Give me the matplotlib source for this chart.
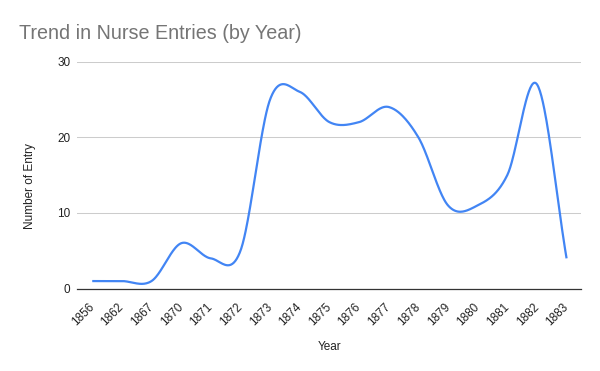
import matplotlib
matplotlib.use("Agg")
import matplotlib.pyplot as plt
from matplotlib.transforms import ScaledTranslation
import numpy as np

plt.rcParams['font.family'] = ['Liberation Sans', 'DejaVu Sans']

years = ['1856', '1862', '1867', '1870', '1871', '1872', '1873', '1874', '1875',
         '1876', '1877', '1878', '1879', '1880', '1881', '1882', '1883']
entries = [1, 1, 1, 6, 4, 5, 25, 26, 22, 22, 24, 20, 11, 11, 15, 27, 4]
y_ticks = [0, 10, 20, 30]


def smooth(vals, n=40):
    # catmull-rom style curve through the points (like the sheets "smooth" line)
    v = np.array(vals, dtype=float)
    m = np.zeros_like(v)
    m[1:-1] = (v[2:] - v[:-2]) / 2
    m[0] = v[1] - v[0]
    m[-1] = v[-1] - v[-2]
    xs, ys = [], []
    for i in range(len(v) - 1):
        t = np.linspace(0, 1, n, endpoint=False)
        h00 = 2*t**3 - 3*t**2 + 1
        h10 = t**3 - 2*t**2 + t
        h01 = -2*t**3 + 3*t**2
        h11 = t**3 - t**2
        xs.append(i + t)
        ys.append(h00*v[i] + h10*m[i] + h01*v[i+1] + h11*m[i+1])
    xs.append([len(v) - 1])
    ys.append([v[-1]])
    return np.concatenate(xs), np.concatenate(ys)


fig = plt.figure(figsize=(6, 3.71), dpi=100)
ax = fig.add_axes([0.129, 0.222, 0.84, 0.612])

sx, sy = smooth(entries)
ax.plot(sx, sy, color='#4285f4', linewidth=1.6, solid_capstyle='butt')

ax.set_xlim(-0.5, len(years) - 0.5)
ax.set_ylim(0, 30)
ax.set_yticks(y_ticks)
ax.set_xticks(range(len(years)))
ax.set_xticklabels(years, rotation=45, ha='right', va='center', rotation_mode='anchor')
for lab in ax.get_xticklabels():
    lab.set_transform(lab.get_transform() + ScaledTranslation(5/72, 0, fig.dpi_scale_trans))

ax.grid(axis='y', color='#cccccc', linewidth=0.75)
ax.set_axisbelow(True)
for s in ['top', 'right', 'left']:
    ax.spines[s].set_visible(False)
ax.spines['bottom'].set_color('#333333')
ax.spines['bottom'].set_linewidth(0.9)
ax.tick_params(axis='both', length=0, labelsize=8.5, labelcolor='#222222')
ax.tick_params(axis='x', pad=12)
ax.tick_params(axis='y', pad=5)

ax.set_xlabel('Year', fontsize=8.5, color='#222222')
ax.xaxis.set_label_coords(0.5, -0.230)
ax.set_ylabel('Number of Entry', fontsize=8.5, color='#222222')
ax.yaxis.set_label_coords(-0.083, 0.452)

fig.text(0.032, 0.895, 'Trend in Nurse Entries (by Year)', fontsize=14.2, color='#757575',
         ha='left', va='baseline')

plt.savefig('out.png', dpi=100)
